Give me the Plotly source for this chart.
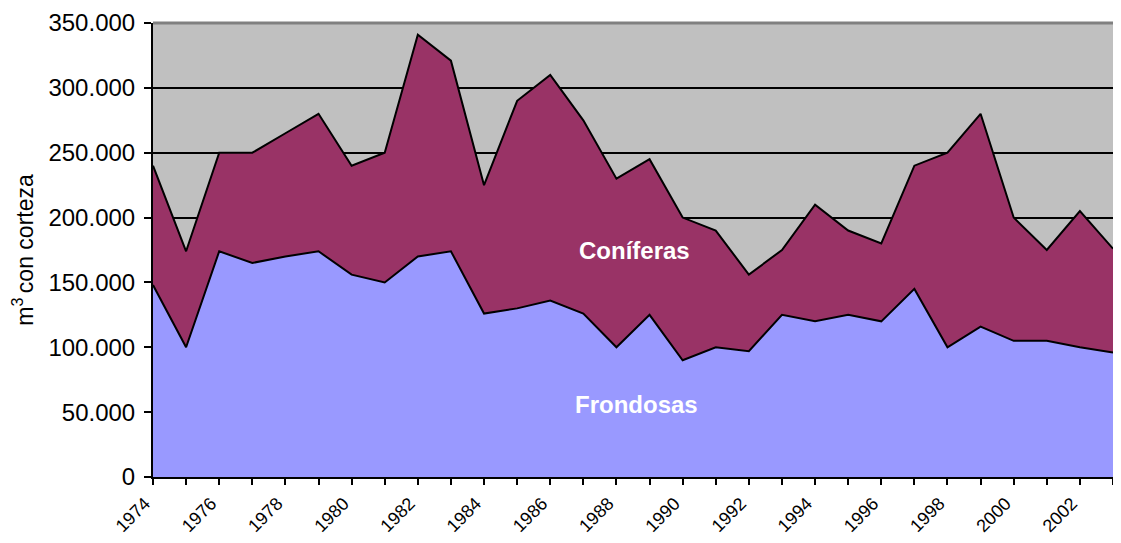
import plotly.graph_objects as go

years = list(range(1974, 2004))
frondosas = [148, 100, 174, 165, 170, 174, 156, 150, 170, 174,
             126, 130, 136, 126, 100, 125, 90, 100, 97, 125,
             120, 125, 120, 145, 100, 116, 105, 105, 100, 96]
coniferas = [92, 74, 76, 85, 95, 106, 84, 100, 171, 147,
             99, 160, 174, 149, 130, 120, 110, 90, 59, 50,
             90, 65, 60, 95, 150, 164, 95, 70, 105, 80]
frondosas = [v * 1000 for v in frondosas]
coniferas = [v * 1000 for v in coniferas]

fig = go.Figure()
fig.add_trace(go.Scatter(
    x=years, y=frondosas, name='Frondosas', mode='lines',
    stackgroup='one', line=dict(color='black', width=2),
    fillcolor='#9999FF'
))
fig.add_trace(go.Scatter(
    x=years, y=coniferas, name='Coníferas', mode='lines',
    stackgroup='one', line=dict(color='black', width=2),
    fillcolor='#993366'
))

font = "Liberation Sans, Arial, sans-serif"
fig.add_annotation(x=1988.55, y=175000, text="<b>Coníferas</b>", showarrow=False,
                   font=dict(family=font, size=24, color='white'))
fig.add_annotation(x=1988.6, y=56000, text="<b>Frondosas</b>", showarrow=False,
                   font=dict(family=font, size=24, color='white'))

# grey frame line along the top of the plot area
fig.add_shape(type='line', xref='paper', yref='paper', x0=0, x1=1, y0=1, y1=1,
              line=dict(color='#808080', width=3))

# the page body has an 8px margin; keep the figure inside the window
fig.update_layout(
    width=1105, height=527,
    margin=dict(l=145, r=0, t=15, b=58, autoexpand=False),
    paper_bgcolor='white', plot_bgcolor='#C0C0C0',
    separators=',.',
    showlegend=False,
    font=dict(family=font, color='black'),
)
fig.update_xaxes(
    range=[1974, 2003], tick0=1974, dtick=2,
    tickangle=-45, tickfont=dict(size=18), ticks='outside', ticklen=6,
    tickcolor='black', tickwidth=2, showgrid=False, showline=True,
    linecolor='black', linewidth=2, zeroline=False,
    ticklabelshift=-8, ticklabelstandoff=1,
    minor=dict(dtick=1, ticks='outside', ticklen=6, tickcolor='black',
               tickwidth=2, showgrid=False)
)
fig.update_yaxes(
    range=[0, 350000], dtick=50000, tickformat=',d', tickfont=dict(size=24),
    ticks='outside', ticklen=7, tickcolor='black', tickwidth=2,
    ticklabelstandoff=4,
    showgrid=True, gridcolor='black', gridwidth=1.5,
    showline=True, linecolor='black', linewidth=2, zeroline=False,
    title=dict(text='m<sup>3 </sup>con corteza', font=dict(size=23), standoff=10)
)

fig.write_html("out.html")
